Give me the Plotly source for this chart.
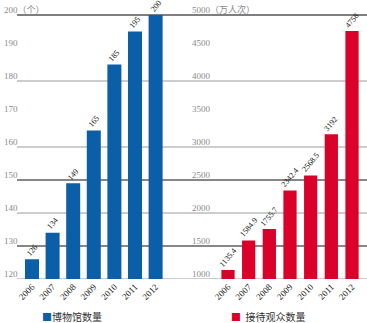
import plotly.graph_objects as go

years = ["2006", "2007", "2008", "2009", "2010", "2011", "2012"]
museums = [126, 134, 149, 165, 185, 195, 200]
visitors = [1135.4, 1584.9, 1755.7, 2342.4, 2568.5, 3192, 4758]
museum_labels = ["126", "134", "149", "165", "185", "195", "200"]
visitor_labels = ["1135.4", "1584.9", "1755.7", "2342.4", "2568.5", "3192", "4758"]
left_ticks = [120, 130, 140, 150, 160, 170, 180, 190, 200]
left_ticktext = ["120", "130", "140", "150", "160", "170", "180", "190", "200（个）"]
right_ticks = [1000, 1500, 2000, 2500, 3000, 3500, 4000, 4500, 5000]
right_ticktext = ["1000", "1500", "2000", "2500", "3000", "3500", "4000", "4500", "5000（万人次）"]
grid_levels = [120, 130, 140, 150, 160, 180, 200]
legend_left = "博物馆数量"
legend_right = "接待观众数量"

BLUE = "#0b5fa8"
RED = "#da0029"
FONT = "Liberation Serif, Noto Sans CJK SC, serif"
W, H = 367, 323

fig = go.Figure()
fig.add_trace(go.Bar(
    x=years, y=museums, marker=dict(color=BLUE, line=dict(width=0)), width=0.68,
    xaxis="x", yaxis="y", showlegend=False, hoverinfo="x+y"))
fig.add_trace(go.Bar(
    x=years, y=visitors, marker=dict(color=RED, line=dict(width=0)), width=0.64,
    xaxis="x2", yaxis="y2", showlegend=False, hoverinfo="x+y"))
# carrier traces (no visible marks) so the label axes y3 / y4 are drawn
fig.add_trace(go.Scatter(x=years, y=[None] * len(years), mode="markers", xaxis="x", yaxis="y3",
                         showlegend=False, hoverinfo="skip"))
fig.add_trace(go.Scatter(x=years, y=[None] * len(years), mode="markers", xaxis="x2", yaxis="y4",
                         showlegend=False, hoverinfo="skip"))

y_base = 1 - 279 / H
y_dom0 = 0.05
px_left = 80 / 264.0
px_right = 4000 / 264.0
extra_px = (1 - y_dom0) * H - 279
left_range = [120, 200 + 15 * px_left]
right_range = [1000, 5000 + 15 * px_right]

grid_style = {120: ("#9a9a9a", 1), 130: ("#111", 1.2), 140: ("#9a9a9a", 1), 150: ("#111", 1.2),
              160: ("#9a9a9a", 1), 180: ("#9a9a9a", 1), 200: ("#555", 1.5)}
shapes = []
for lv in grid_levels:
    c, w = grid_style[lv]
    shapes.append(dict(type="line", xref="paper", yref="y", x0=17 / W, x1=1, y0=lv, y1=lv,
                       line=dict(color=c, width=w), layer="below"))

tickfont = dict(size=9, color="#8a8a8a", family=FONT)
xtickfont = dict(size=9, color="#222", family=FONT)
noaxis = dict(showgrid=False, showline=False, ticks="", zeroline=False)
lblfont = dict(size=8, color="#111", family=FONT)

annotations = []
for xr, yr, ys, ts in (("x", "y", museums, museum_labels),
                       ("x2", "y2", visitors, visitor_labels)):
    for i, (yv, t) in enumerate(zip(ys, ts)):
        annotations.append(dict(xref=xr, yref=yr, x=i, y=yv, text=t, textangle=-50,
                                showarrow=False, xanchor="center", yanchor="bottom",
                                yshift=0, borderpad=0, font=lblfont))
annotations += [
    dict(xref="paper", yref="paper", x=40 / W, y=1 - 316 / H, xanchor="left", yanchor="middle",
         text=f'<span style="color:{BLUE}">■</span>{legend_left}', showarrow=False,
         font=dict(size=10, color="#333", family="Noto Sans CJK SC")),
    dict(xref="paper", yref="paper", x=229 / W, y=1 - 316 / H, xanchor="left", yanchor="middle",
         text=f'<span style="color:{RED}">■</span>  {legend_right}', showarrow=False,
         font=dict(size=10, color="#333", family="Noto Sans CJK SC")),
]

fig.update_layout(
    width=W, height=H, margin=dict(l=0, r=0, t=0, b=0),
    paper_bgcolor="white", plot_bgcolor="rgba(0,0,0,0)",
    showlegend=False, shapes=shapes, annotations=annotations,
    xaxis=dict(domain=[0, 172 / W], range=[-1.553, 6.796], anchor="y", type="category",
               tickangle=-45, tickfont=xtickfont, ticklabeloverflow="allow", **noaxis),
    yaxis=dict(domain=[y_base, 1], range=left_range, anchor="x", showticklabels=False, **noaxis),
    xaxis2=dict(domain=[188 / W, 1], range=[-1.935, 6.725], anchor="y2", type="category",
                tickangle=-45, tickfont=xtickfont, ticklabeloverflow="allow", **noaxis),
    yaxis2=dict(domain=[y_base, 1], range=right_range, anchor="x2", showticklabels=False, **noaxis),
    # label axes: same scale as the bar axes, extended downward so the lowest label is not clipped
    yaxis3=dict(domain=[y_dom0, 1], range=[120 - extra_px * px_left, left_range[1]],
                anchor="free", position=0, tickvals=left_ticks, ticktext=left_ticktext,
                ticklabelposition="inside", ticklabelshift=-5, ticklabeloverflow="allow",
                tickfont=tickfont, **noaxis),
    yaxis4=dict(domain=[y_dom0, 1], range=[1000 - extra_px * px_right, right_range[1]],
                anchor="free", position=188 / W, tickvals=right_ticks, ticktext=right_ticktext,
                ticklabelposition="inside", ticklabelshift=-5, ticklabeloverflow="allow",
                tickfont=tickfont, **noaxis),
)

fig.write_html("out.html")
